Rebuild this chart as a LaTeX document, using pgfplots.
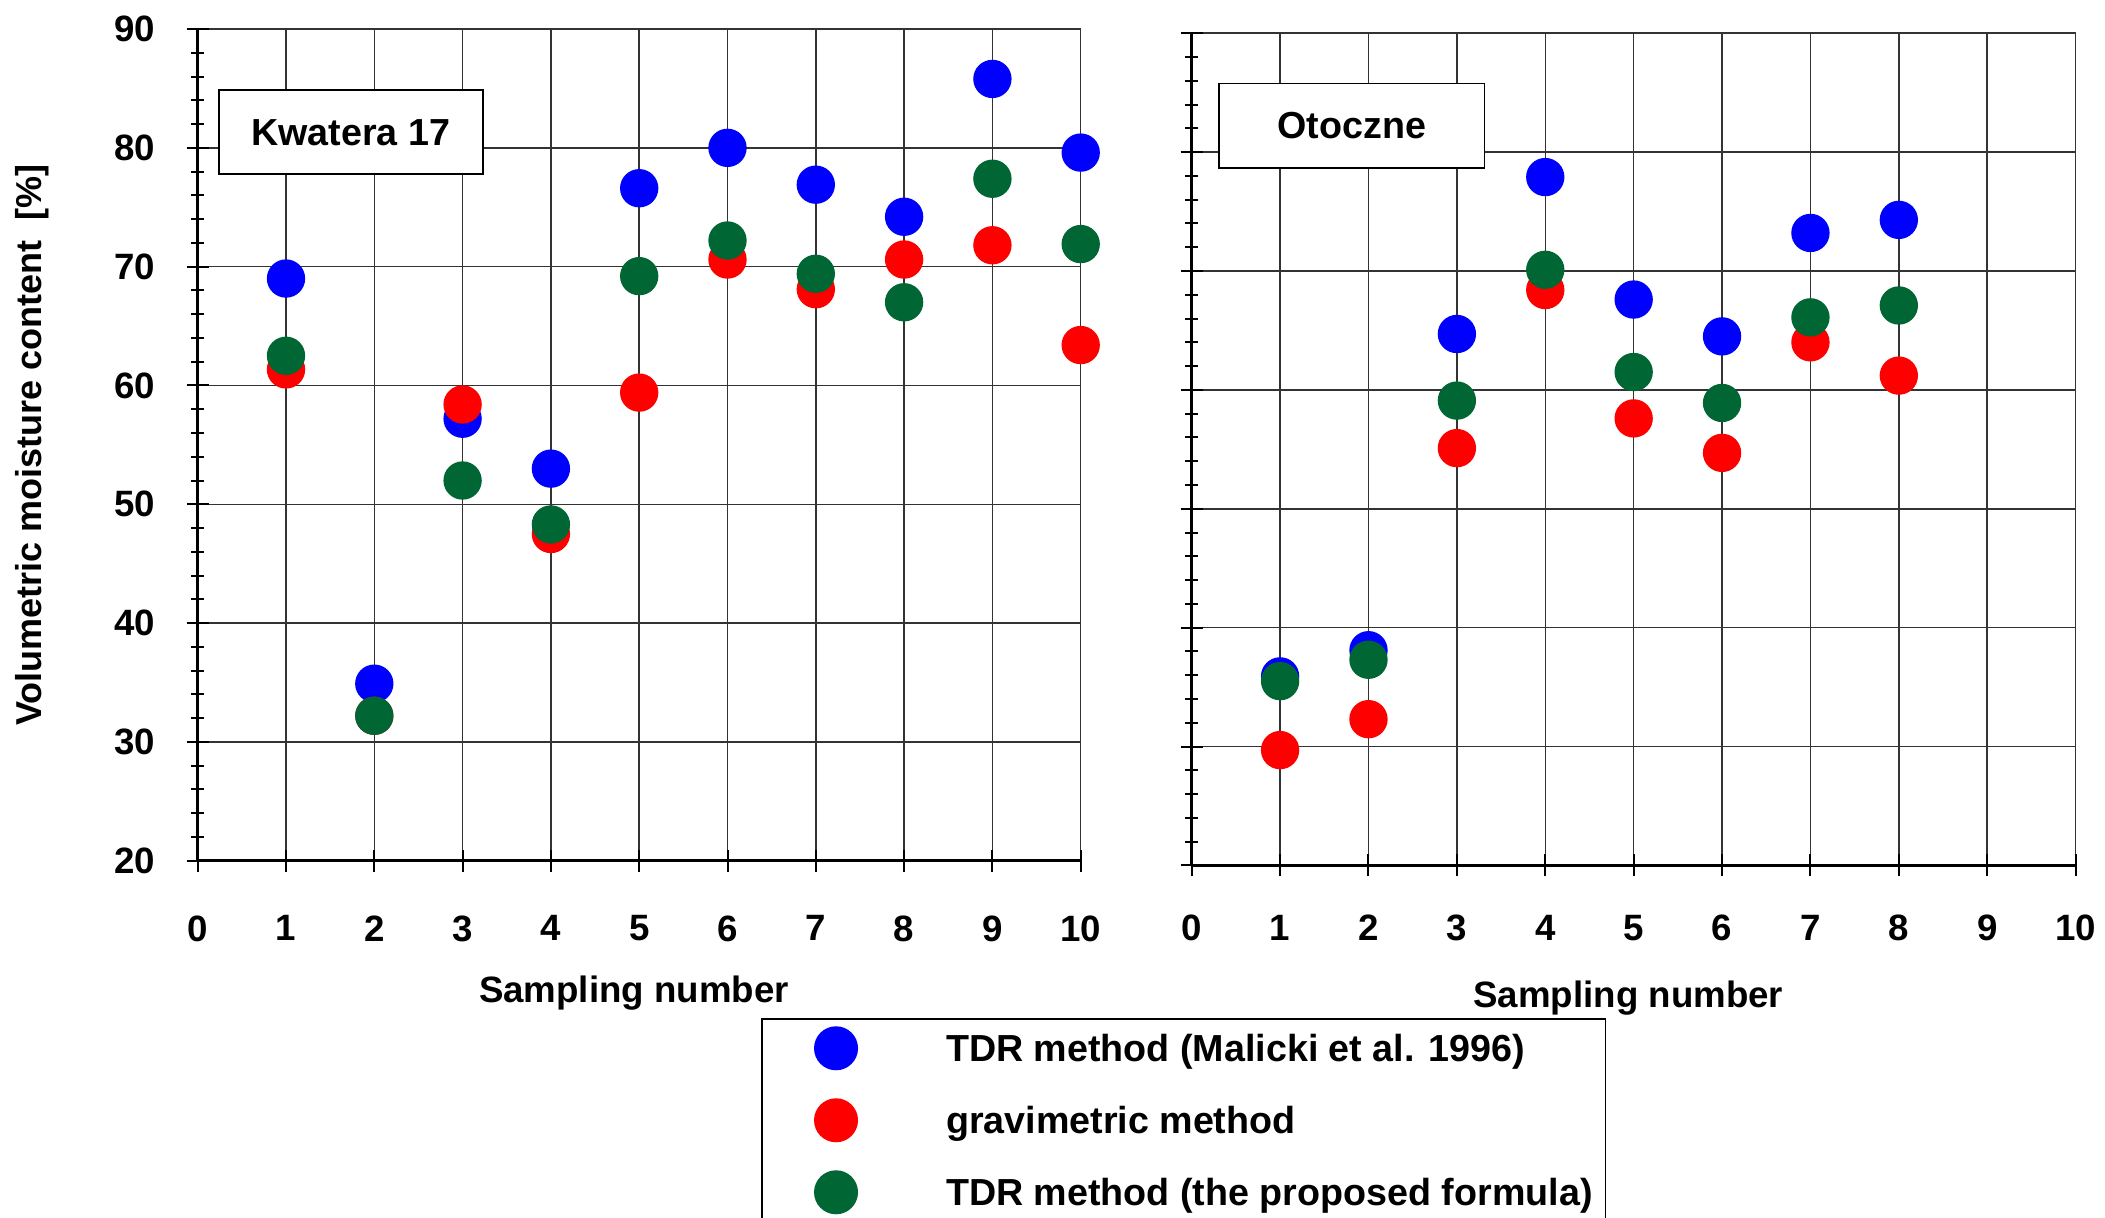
\documentclass[border=0pt]{standalone}
\usepackage{pgfplots}
\pgfplotsset{compat=1.18}
\usepackage{fontspec}
\setmainfont{Liberation Sans}
\definecolor{cblue}{RGB}{0,0,255}
\definecolor{cred}{RGB}{255,0,0}
\definecolor{cgreen}{RGB}{0,102,51}
\newcommand{\ff}{\fontsize{11}{13}\selectfont\bfseries}
\newcommand{\fl}{\fontsize{11.3}{13}\selectfont\bfseries}
\newcommand{\fy}{\fontsize{10.8}{13}\selectfont\bfseries}
\pgfplotsset{
  panel/.style={
    scale only axis,
    anchor=south west,
    xmin=0, xmax=10, ymin=20, ymax=90,
    xtick={0,1,...,10},
    ytick={20,30,...,90},
    minor y tick num=4,
    tick align=outside,
    major tick length=6.6pt,
    minor tick length=3.8pt,
    axis lines=left,
    axis line style={-, line width=0.75pt},
    every tick/.style={black, line width=0.6pt},
    grid=major,
    major grid style={black!80, line width=0.45pt},
    tick label style={font=\ff},
    /pgf/number format/assume math mode=true,
    yticklabel style={anchor=east, inner sep=0pt, xshift=-9.3pt},
    label style={font=\ff},
    clip=false,
    only marks,
  },
  legend image code/.code={%
    \path[draw=none, fill=none] (0pt,-10.8pt) rectangle (55pt,10.8pt);
    \draw[#1, mark size=6.4pt] plot coordinates {(22pt,0pt)};
  },
}
\begin{document}
\begin{tikzpicture}
\useasboundingbox (0,0) rectangle (631.5pt,365.1pt);
\begin{axis}[panel,
  at={(59.31pt,106.89pt)},
  width=264.9pt, height=249.51pt,
  xticklabel style={anchor=north, inner sep=0pt, yshift=-13pt},
  xlabel={Sampling number},
  xlabel style={at={(axis description cs:0.494,-0.1708)}, anchor=base},
  ylabel={Volumetric moisture content\ \ [\%]},
  ylabel style={at={(axis description cs:-0.1878,0.5)}, anchor=center, rotate=0, font=\fy},
  legend style={at={(axis description cs:0.6391,-0.18144)}, anchor=north west,
    draw=none, fill=none, inner sep=0pt, row sep=0pt,
    nodes={inner sep=0pt, text height=8.1pt, text depth=0pt, anchor=west, font=\fl}},
  legend cell align=left,
]
\addplot[mark=*, mark size=5.55pt, color=cblue] coordinates {
(1,69.0) (2,34.9) (3,57.2) (4,53.0) (5,76.6) (6,80.0) (7,76.9) (8,74.2) (9,85.8) (10,79.6)};
\addplot[mark=*, mark size=5.55pt, color=cred] coordinates {
(1,61.35) (2,32.2) (3,58.4) (4,47.5) (5,59.4) (6,70.6) (7,68.1) (8,70.6) (9,71.8) (10,63.4)};
\addplot[mark=*, mark size=5.55pt, color=cgreen] coordinates {
(1,62.5) (2,32.2) (3,52.0) (4,48.3) (5,69.2) (6,72.2) (7,69.4) (8,67.0) (9,77.4) (10,71.9)};
\legend{TDR method (Malicki et al. 1996), gravimetric method, TDR method (the proposed formula)}
\node[draw=black, line width=0.5pt, fill=white, inner sep=0pt, minimum width=79.2pt, minimum height=25.2pt, font=\fl]
  at (axis description cs:0.1733,0.8758) {Kwatera 17};
\end{axis}
\begin{axis}[panel,
  at={(357.51pt,105.48pt)},
  width=265.17pt, height=249.66pt,
  xticklabel style={anchor=north, inner sep=0pt, yshift=-11.4pt},
  yticklabels={},
  xlabel={Sampling number},
  xlabel style={at={(axis description cs:0.494,-0.1708)}, anchor=base},
]
\addplot[mark=*, mark size=5.55pt, color=cblue] coordinates {
(1,35.9) (2,38.1) (3,64.7) (4,77.9) (5,67.6) (6,64.5) (7,73.2) (8,74.3)};
\addplot[mark=*, mark size=5.55pt, color=cred] coordinates {
(1,29.7) (2,32.3) (3,55.1) (4,68.4) (5,57.6) (6,54.7) (7,64.0) (8,61.2)};
\addplot[mark=*, mark size=5.55pt, color=cgreen] coordinates {
(1,35.5) (2,37.3) (3,59.1) (4,70.1) (5,61.5) (6,58.9) (7,66.1) (8,67.1)};
\node[draw=black, line width=0.5pt, fill=white, inner sep=0pt, minimum width=79.7pt, minimum height=25.3pt, font=\fl]
  at (axis description cs:0.1811,0.8890) {Otoczne};
\end{axis}
\draw[line width=0.5pt] (228.6pt,-10pt) -- (228.6pt,59.31pt) -- (481.68pt,59.31pt) -- (481.68pt,-10pt);
\end{tikzpicture}
\end{document}
